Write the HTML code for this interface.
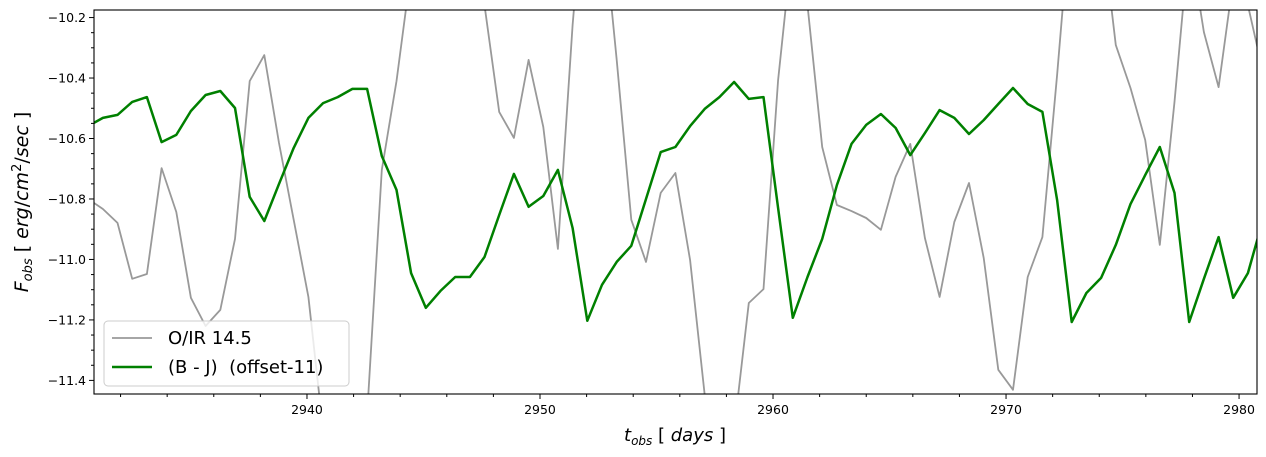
<!DOCTYPE html>
<html><head><meta charset="utf-8"><style>
html,body{margin:0;padding:0;background:#fff;width:1266px;height:457px;overflow:hidden;position:relative;}
svg{display:block;font-family:"DejaVu Sans","Liberation Sans",sans-serif;}
</style></head><body>
<svg id="chart" style="position:absolute;left:0;top:0" width="1266" height="457" xmlns="http://www.w3.org/2000/svg"></svg>
<script>
const times = [2930.61,2931.24,2931.87,2932.50,2933.13,2933.76,2934.39,2935.02,2935.65,2936.28,2936.91,2937.54,2938.17,2938.80,2939.43,2940.06,2940.69,2941.32,2941.95,2942.58,2943.21,2943.84,2944.47,2945.10,2945.73,2946.36,2946.99,2947.62,2948.25,2948.88,2949.51,2950.14,2950.77,2951.40,2952.03,2952.66,2953.29,2953.92,2954.55,2955.18,2955.81,2956.44,2957.07,2957.70,2958.33,2958.96,2959.59,2960.22,2960.85,2961.48,2962.11,2962.74,2963.37,2964.00,2964.63,2965.26,2965.89,2966.52,2967.15,2967.78,2968.41,2969.04,2969.67,2970.30,2970.93,2971.56,2972.19,2972.82,2973.45,2974.08,2974.71,2975.34,2975.97,2976.60,2977.23,2977.86,2978.49,2979.12,2979.75,2980.38,2981.01];
const greyValues = [-10.800,-10.833,-10.879,-11.064,-11.048,-10.698,-10.843,-11.127,-11.220,-11.167,-10.932,-10.410,-10.324,-10.615,-10.869,-11.124,-11.564,-11.729,-11.696,-11.514,-10.704,-10.410,-10.043,-9.944,-9.911,-9.944,-10.043,-10.159,-10.512,-10.598,-10.340,-10.562,-10.965,-10.225,-9.646,-9.845,-10.340,-10.869,-11.008,-10.780,-10.714,-11.002,-11.448,-11.597,-11.564,-11.144,-11.098,-10.407,-9.944,-10.159,-10.628,-10.820,-10.840,-10.863,-10.902,-10.727,-10.618,-10.929,-11.124,-10.876,-10.747,-10.995,-11.365,-11.431,-11.058,-10.926,-10.390,-9.812,-9.646,-9.878,-10.291,-10.433,-10.605,-10.952,-10.479,-9.944,-10.248,-10.430,-10.076,-10.159,-10.374];
const greenValues = [-10.559,-10.532,-10.522,-10.479,-10.463,-10.612,-10.588,-10.509,-10.456,-10.443,-10.499,-10.793,-10.873,-10.750,-10.631,-10.532,-10.483,-10.463,-10.436,-10.436,-10.658,-10.770,-11.045,-11.160,-11.104,-11.058,-11.058,-10.992,-10.853,-10.717,-10.826,-10.790,-10.704,-10.896,-11.203,-11.084,-11.008,-10.955,-10.800,-10.645,-10.628,-10.559,-10.502,-10.463,-10.413,-10.469,-10.463,-10.830,-11.193,-11.058,-10.932,-10.754,-10.618,-10.555,-10.519,-10.565,-10.655,-10.582,-10.506,-10.532,-10.585,-10.539,-10.486,-10.433,-10.486,-10.512,-10.803,-11.207,-11.111,-11.061,-10.952,-10.817,-10.721,-10.628,-10.780,-11.207,-11.064,-10.926,-11.127,-11.045,-10.873];
const xTicks = [2940,2950,2960,2970,2980];
const yTicks = [-11.4,-11.2,-11.0,-10.8,-10.6,-10.4,-10.2];

const NS="http://www.w3.org/2000/svg";
const svg=document.getElementById('chart');
const L=94,R=1257,T=10,B=394;
const X0=2930.86,X1=2980.77,Y0=-11.445,Y1=-10.175;
function sx(t){return L+(t-X0)/(X1-X0)*(R-L);}
function sy(v){return B-(v-Y0)/(Y1-Y0)*(B-T);}
function mk(tag,attrs,parent){const e=document.createElementNS(NS,tag);for(const k in attrs)e.setAttribute(k,attrs[k]);(parent||svg).appendChild(e);return e;}

const defs=mk('defs',{});
const cp=mk('clipPath',{id:'clip'},defs);
mk('rect',{x:L,y:T,width:R-L,height:B-T},cp);

const plot=mk('g',{'clip-path':'url(#clip)'});



function line(vals,color,w,name){
  const d=vals.map((v,i)=>(i?'L':'M')+sx(times[i]).toFixed(1)+','+sy(v).toFixed(1)).join(' ');
  const p=mk('path',{d:d,fill:'none',stroke:color,'stroke-width':w,'stroke-linejoin':'round'},plot);
  
  
}
line(greyValues,'#999999',1.8,'oir-series-line');
line(greenValues,'#008000',2.5,'bj-series-line');

const frame=mk('rect',{x:L,y:T,width:R-L,height:B-T,fill:'none',stroke:'#000','stroke-width':1.1});



for(let t=2932;t<=2980;t+=2){
  const x=sx(t);const major=xTicks.includes(t);
  mk('line',{x1:x,x2:x,y1:B,y2:B+(major?5:3),stroke:'#000','stroke-width':1});
}
xTicks.forEach(t=>{
  const tx=mk('text',{x:sx(t),y:B+20,'text-anchor':'middle','font-size':12.5,fill:'#000'});
  tx.textContent=t;
  
  
});
for(let k=-1140;k<=-1020;k+=5){
  const v=k/100;const y=sy(v);const major=(k%20===0);
  mk('line',{x1:L,x2:L-(major?5:3),y1:y,y2:y,stroke:'#000','stroke-width':1});
}
yTicks.forEach(v=>{
  const tx=mk('text',{x:L-8,y:sy(v)+4.5,'text-anchor':'end','font-size':12.5,fill:'#000'});
  tx.textContent='\u2212'+Math.abs(v).toFixed(1);
  
  
});
</script>
<svg style="position:absolute;left:0;top:0" width="1266" height="457" xmlns="http://www.w3.org/2000/svg">
  <text x="675" y="441" text-anchor="middle" font-family="DejaVu Sans, Liberation Sans, sans-serif" font-size="18"><tspan font-style="italic">t</tspan><tspan font-style="italic" font-size="12" dy="4">obs</tspan><tspan dy="-4"> [ </tspan><tspan font-style="italic">days</tspan><tspan> ]</tspan></text>
  <text transform="translate(28,202) rotate(-90)" text-anchor="middle" font-family="DejaVu Sans, Liberation Sans, sans-serif" font-size="19"><tspan font-style="italic">F</tspan><tspan font-style="italic" font-size="13" dy="4">obs</tspan><tspan dy="-4"> [ </tspan><tspan font-style="italic">erg</tspan><tspan>/</tspan><tspan font-style="italic">cm</tspan><tspan font-size="13" dy="-7">2</tspan><tspan dy="7">/</tspan><tspan font-style="italic">sec</tspan><tspan> ]</tspan></text>
  <g>
    <rect x="104" y="321" width="245" height="65" rx="4" fill="#fff" fill-opacity="0.8" stroke="#ccc" stroke-width="1"/>
    <line x1="112" x2="152" y1="338" y2="338" stroke="#999" stroke-width="1.8"/>
    <text x="168" y="344" font-family="DejaVu Sans, Liberation Sans, sans-serif" font-size="18">O/IR 14.5</text>
    <line x1="112" x2="152" y1="367" y2="367" stroke="#008000" stroke-width="2.5"/>
    <text x="168" y="373" font-family="DejaVu Sans, Liberation Sans, sans-serif" font-size="18" style="white-space:pre" xml:space="preserve">(B - J)  (offset-11)</text>
  </g>
</svg>
</body></html>
